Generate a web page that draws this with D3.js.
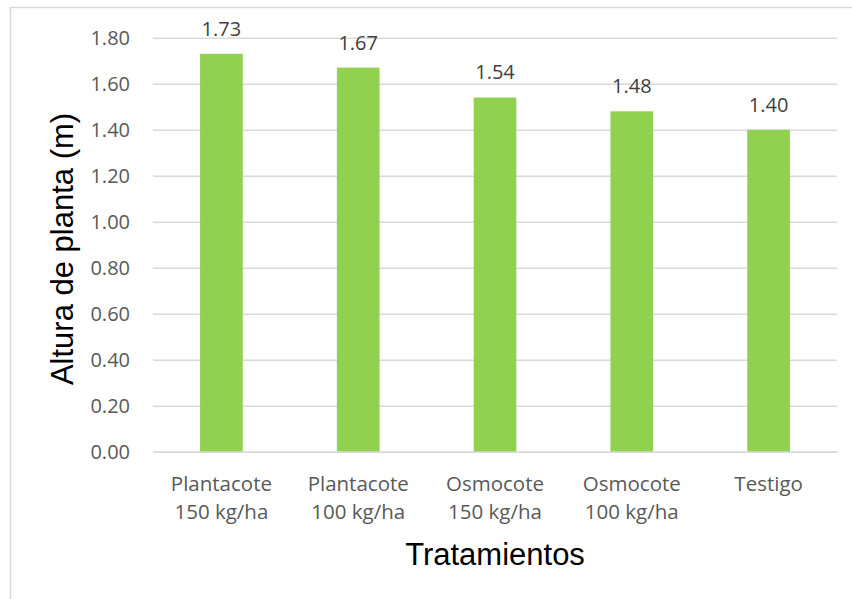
<!DOCTYPE html>
<html>
<head>
<meta charset="utf-8">
<script src="https://cdn.jsdelivr.net/npm/d3@7"></script>
<style>
  html, body { margin: 0; padding: 0; background: #fff; }
  svg { display: block; }
</style>
</head>
<body>
<svg id="chart" width="852" height="599"></svg>
<script>
const categories = [
  ["Plantacote", "150 kg/ha"],
  ["Plantacote", "100 kg/ha"],
  ["Osmocote", "150 kg/ha"],
  ["Osmocote", "100 kg/ha"],
  ["Testigo"]
];
const values = [1.73, 1.67, 1.54, 1.48, 1.40];
const yTicks = [0, 0.2, 0.4, 0.6, 0.8, 1.0, 1.2, 1.4, 1.6, 1.8];
const yTitle = "Altura de planta (m)";
const xTitle = "Tratamientos";

const svg = d3.select("#chart");
const W = 852, H = 599;
const m = { left: 153, right: 852 - 837, top: 37.7, bottom: 599 - 451.7 };
const iw = W - m.left - m.right, ih = H - m.top - m.bottom;

// chart border (extends beyond right / bottom of picture)
svg.append("rect")
  .attr("x", 10.5).attr("y", 7.5)
  .attr("width", 900).attr("height", 700)
  .attr("fill", "#fff").attr("stroke", "#D9D9D9").attr("stroke-width", 1.5);

const g = svg.append("g").attr("transform", `translate(${m.left},${m.top})`);

const idx = d3.range(values.length);
const x = d3.scaleBand().domain(idx).range([0, iw]).paddingInner(0.688).paddingOuter(0.344);
const y = d3.scaleLinear().domain([0, 1.8]).range([ih, 0]);

// y axis (gridlines + labels)
const yAxis = d3.axisLeft(y).tickValues(yTicks).tickFormat(d3.format(".2f"))
  .tickSize(-iw).tickPadding(23);
const ya = g.append("g").call(yAxis);
ya.select(".domain").remove();
ya.selectAll(".tick line").attr("stroke", "#D9D9D9").attr("stroke-width", 1.5);
ya.selectAll(".tick text")
  .attr("fill", "#595959")
  .style("font-family", "'Open Sans', sans-serif")
  .style("font-size", "20px");

// bars
g.selectAll("rect.bar").data(idx).enter().append("rect")
  .attr("class", "bar")
  .attr("x", i => x(i))
  .attr("width", x.bandwidth())
  .attr("y", i => y(values[i]))
  .attr("height", i => ih - y(values[i]))
  .attr("fill", "#92D050");

// data labels
g.selectAll("text.lbl").data(idx).enter().append("text")
  .attr("class", "lbl")
  .attr("x", i => x(i) + x.bandwidth() / 2)
  .attr("y", i => y(values[i]) - 18)
  .attr("text-anchor", "middle")
  .attr("fill", "#404040")
  .style("font-family", "'Open Sans', sans-serif")
  .style("font-size", "20px")
  .text(i => values[i].toFixed(2));

// x axis category labels
const xAxis = d3.axisBottom(x).tickSize(0).tickFormat(() => "");
const xa = g.append("g").attr("transform", `translate(0,${ih})`).call(xAxis);
xa.select(".domain").attr("stroke", "#D9D9D9").attr("stroke-width", 1.5);
xa.selectAll(".tick").each(function(i) {
  const t = d3.select(this).append("text")
    .attr("text-anchor", "middle")
    .attr("fill", "#595959")
    .style("font-family", "'Open Sans', sans-serif")
    .style("font-size", "20.5px");
  categories[i].forEach((line, k) => {
    t.append("tspan").attr("x", 0).attr("y", 39.5 + k * 28).text(line);
  });
});

// axis titles
svg.append("text")
  .attr("x", m.left + iw / 2).attr("y", 565)
  .attr("text-anchor", "middle")
  .attr("fill", "#000")
  .style("font-family", "'Liberation Sans', Arial, sans-serif")
  .style("font-size", "31px")
  .text(xTitle);

svg.append("text")
  .attr("transform", `translate(73,249) rotate(-90)`)
  .attr("text-anchor", "middle")
  .attr("fill", "#000")
  .style("font-family", "'Liberation Sans', Arial, sans-serif")
  .style("font-size", "31px")
  .text(yTitle);
</script>
</body>
</html>
